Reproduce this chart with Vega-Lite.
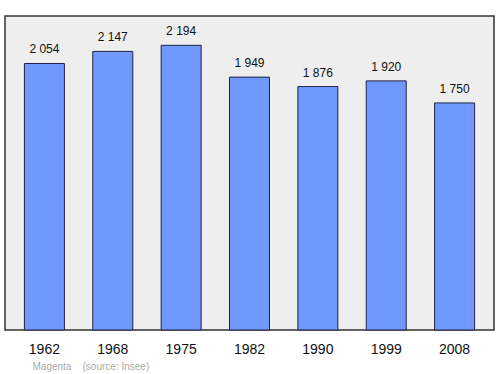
{
  "$schema": "https://vega.github.io/schema/vega-lite/v6.json",
  "width": 489,
  "height": 314,
  "autosize": {"type": "none"},
  "padding": {"left": 5, "top": 16, "right": 6, "bottom": 44},
  "background": "white",
  "config": {
    "view": {"fill": "#eeeeee", "stroke": "#333333", "strokeWidth": 1.5},
    "font": "Liberation Sans",
    "locale": {"number": {"decimal": ",", "thousands": "\u00a0", "grouping": [3], "currency": ["", " €"]}}
  },
  "data": {
    "values": [
      {"year": "1962", "population": 2054},
      {"year": "1968", "population": 2147},
      {"year": "1975", "population": 2194},
      {"year": "1982", "population": 1949},
      {"year": "1990", "population": 1876},
      {"year": "1999", "population": 1920},
      {"year": "2008", "population": 1750}
    ]
  },
  "encoding": {
    "x": {
      "field": "year",
      "type": "nominal",
      "sort": null,
      "scale": {"paddingInner": 0.415, "paddingOuter": 0.284},
      "axis": {
        "title": "Magenta\u00a0\u00a0\u00a0\u00a0(source: Insee)",
        "titleX": 27,
        "titleY": 39,
        "titleAlign": "left",
        "titleAnchor": "start",
        "titleBaseline": "alphabetic",
        "titleFontWeight": "normal",
        "titleFontSize": 10,
        "titleColor": "#aaaaaa",
        "labelAngle": 0,
        "labelFontSize": 14,
        "labelColor": "#111111",
        "labelBaseline": "alphabetic",
        "labelPadding": 23,
        "ticks": false,
        "tickSize": 0,
        "domain": false,
        "grid": false
      }
    },
    "y": {
      "field": "population",
      "type": "quantitative",
      "scale": {"domain": [0, 2420], "nice": false},
      "axis": null
    }
  },
  "layer": [
    {
      "mark": {"type": "bar", "fill": "#7099ff", "stroke": "#222244", "strokeWidth": 1}
    },
    {
      "mark": {"type": "text", "baseline": "alphabetic", "dy": -10, "fontSize": 12, "color": "#111111"},
      "encoding": {"text": {"field": "population", "type": "quantitative", "format": ",d"}}
    }
  ]
}
